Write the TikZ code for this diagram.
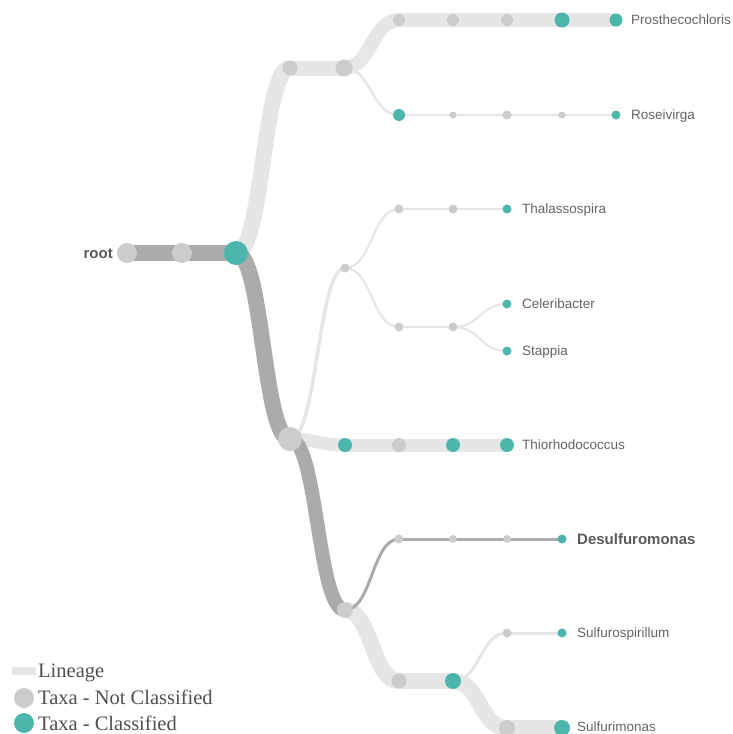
\documentclass[tikz,border=0pt]{standalone}
\usepackage{fontspec}
\setmainfont{Liberation Sans}
\newfontfamily\legendfont{Liberation Serif}
\usetikzlibrary{calc,backgrounds}
\definecolor{tealc}{RGB}{77,182,172}
\definecolor{nodegrey}{RGB}{204,204,204}
\definecolor{lightlink}{RGB}{230,230,230}
\definecolor{darklink}{RGB}{171,171,171}
\definecolor{txtgrey}{RGB}{100,100,100}
\definecolor{legtxt}{RGB}{80,80,80}
\newcommand{\hlk}[3]{\draw[#1] let \p1=(#2.center), \p2=(#3.center) in (\p1) .. controls ({0.5*\x1+0.5*\x2},\y1) and ({0.5*\x1+0.5*\x2},\y2) .. (\p2);}
\tikzset{
  tg/.style={circle,inner sep=0pt,fill=nodegrey,minimum size=#1 pt},
  tt/.style={circle,inner sep=0pt,fill=tealc,minimum size=#1 pt},
  lab/.style={anchor=base west,inner sep=0pt,xshift=15pt,yshift=-4.6pt,text=txtgrey,font=\fontsize{13.5}{16}\selectfont},
  blab/.style={anchor=base west,inner sep=0pt,xshift=15pt,yshift=-5.3pt,text=txtgrey!90!black,font=\fontsize{15}{18}\selectfont\bfseries},
  rootlab/.style={anchor=base east,inner sep=0pt,xshift=-14pt,yshift=-5.3pt,text=txtgrey!90!black,font=\fontsize{15}{18}\selectfont\bfseries},
  thick light/.style={draw=lightlink,line width=#1 pt},
  thin light/.style={draw=lightlink,line width=#1 pt},
  dark/.style={draw=darklink,line width=#1 pt},
  legtext/.style={anchor=base west,inner sep=0pt,text=legtxt,font=\legendfont\fontsize{20.5}{23}\selectfont},
}
\begin{document}
\begin{tikzpicture}[x=1pt,y=-1pt]
\useasboundingbox (0,0) rectangle (733,734);
% nodes
\node[tg=20] (root) at (127,253) {};
\node[tg=20] (a1) at (182,253) {};
\node[tt=24] (a2) at (236,253) {};
\node[tg=15] (b1) at (290,68) {};
\node[tg=17] (b2) at (344,68) {};
\node[tg=12] (c1) at (399,20) {};
\node[tg=12] (c2) at (453,20) {};
\node[tg=12] (c3) at (507,20) {};
\node[tt=15] (c4) at (562,20) {};
\node[tt=13] (c5) at (616,20) {};
\node[tt=12] (d1) at (399,115) {};
\node[tg=7] (d2) at (453,115) {};
\node[tg=9] (d3) at (507,115) {};
\node[tg=7] (d4) at (562,115) {};
\node[tt=9] (d5) at (616,115) {};
\node[tg=24] (e) at (290,439) {};
\node[tg=9] (f) at (345,268) {};
\node[tg=9] (f1) at (399,209) {};
\node[tg=9] (f2) at (453,209) {};
\node[tt=9] (f3) at (507,209) {};
\node[tg=9] (g1) at (399,327) {};
\node[tg=9] (g2) at (453,327) {};
\node[tt=9] (g3) at (507,304) {};
\node[tt=9] (g4) at (507,351) {};
\node[tt=14] (h1) at (345,445) {};
\node[tg=14] (h2) at (399,445) {};
\node[tt=14] (h3) at (453,445) {};
\node[tt=14] (h4) at (507,445) {};
\node[tg=16] (k) at (345,610) {};
\node[tg=9] (k1) at (399,539) {};
\node[tg=8] (k2) at (453,539) {};
\node[tg=8] (k3) at (507,539) {};
\node[tt=9] (k4) at (562,539) {};
\node[tg=15] (m1) at (399,681) {};
\node[tt=16] (m2) at (453,681) {};
\node[tg=9] (n1) at (507,633) {};
\node[tt=9] (n2) at (562,633) {};
\node[tg=16] (p1) at (507,728) {};
\node[tt=16] (p2) at (562,728) {};
% labels
\node[rootlab] (lroot) at (root.center) {root};
\node[lab] (lc5) at (c5.center) {Prosthecochloris};
\node[lab] (ld5) at (d5.center) {Roseivirga};
\node[lab] (lf3) at (f3.center) {Thalassospira};
\node[lab] (lg3) at (g3.center) {Celeribacter};
\node[lab] (lg4) at (g4.center) {Stappia};
\node[lab] (lh4) at (h4.center) {Thiorhodococcus};
\node[blab] (lk4) at (k4.center) {Desulfuromonas};
\node[lab] (ln2) at (n2.center) {Sulfurospirillum};
\node[lab,yshift=1pt] (lp2) at (p2.center) {Sulfurimonas};
% links
\begin{scope}[on background layer]
\hlk{thick light=16}{a2}{b1}
\draw[thick light=15] (b1.center) -- (b2.center);
\hlk{thick light=14}{b2}{c1}
\draw[thick light=14] (c1.center) -- (c2.center) -- (c3.center) -- (c4.center) -- (c5.center);
\hlk{thin light=2.5}{b2}{d1}
\draw[thin light=2.5] (d1.center) -- (d2.center) -- (d3.center) -- (d4.center) -- (d5.center);
\hlk{thin light=3.5}{e}{f}
\hlk{thin light=2.2}{f}{f1}
\draw[thin light=2.2] (f1.center) -- (f2.center) -- (f3.center);
\hlk{thin light=2.2}{f}{g1}
\draw[thin light=2.2] (g1.center) -- (g2.center);
\hlk{thin light=2}{g2}{g3}
\hlk{thin light=2}{g2}{g4}
\hlk{thick light=13}{e}{h1}
\draw[thick light=13] (h1.center) -- (h2.center) -- (h3.center) -- (h4.center);
\hlk{thick light=16}{k}{m1}
\draw[thick light=16] (m1.center) -- (m2.center);
\hlk{thick light=16}{m2}{p1}
\draw[thick light=16] (p1.center) -- (p2.center);
\hlk{thin light=3}{m2}{n1}
\draw[thin light=3] (n1.center) -- (n2.center);
\draw[dark=16] (root.center) -- (a1.center) -- (a2.center);
\hlk{dark=16}{a2}{e}
\hlk{dark=14}{e}{k}
\hlk{dark=3}{k}{k1}
\draw[dark=3] (k1.center) -- (k2.center) -- (k3.center) -- (k4.center);
\end{scope}
% legend
\node[rectangle,fill=lightlink,inner sep=0pt,minimum width=24pt,minimum height=8pt] (legl) at (24,671) {};
\node[tg=20] (legg) at (24,698) {};
\node[tt=20] (legt) at (24,723) {};
\node[legtext] (legl t) at (38,677) {Lineage};
\node[legtext] (legg t) at (38,704) {Taxa - Not Classified};
\node[legtext] (legt t) at (38,730) {Taxa - Classified};
\end{tikzpicture}
\end{document}
